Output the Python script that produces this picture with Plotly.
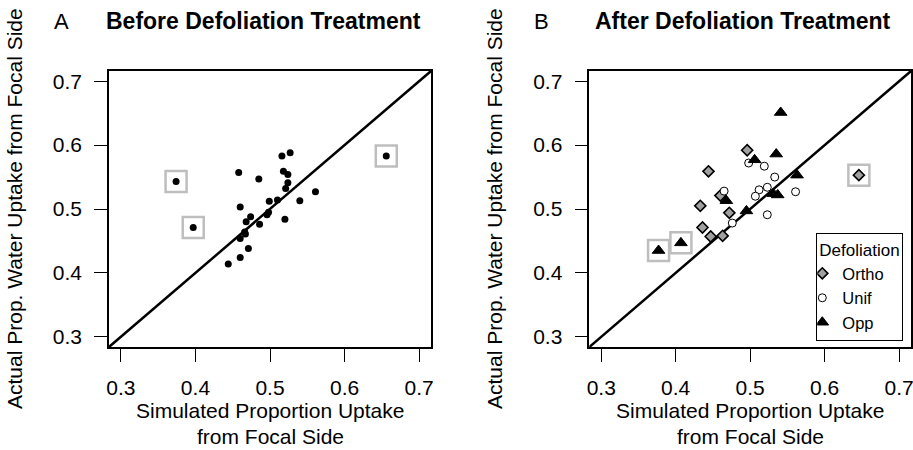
import plotly.graph_objects as go

# ---------------- data ----------------
# Panel A: before defoliation (simulated x, actual y)
before_x = [0.374, 0.397, 0.656, 0.516, 0.527, 0.458, 0.485, 0.518, 0.524, 0.524,
            0.521, 0.561, 0.540, 0.510, 0.499, 0.498, 0.496, 0.460, 0.520, 0.474,
            0.468, 0.486, 0.466, 0.467, 0.460, 0.471, 0.460, 0.444]
before_y = [0.543, 0.471, 0.583, 0.583, 0.588, 0.557, 0.547, 0.559, 0.554, 0.541,
            0.532, 0.527, 0.513, 0.514, 0.512, 0.495, 0.491, 0.503, 0.484, 0.488,
            0.480, 0.476, 0.464, 0.461, 0.454, 0.438, 0.424, 0.414]
before_out_x = [0.374, 0.397, 0.656]
before_out_y = [0.543, 0.471, 0.583]

# Panel B: after defoliation, by treatment
ortho_x = [0.496, 0.444, 0.646, 0.433, 0.460, 0.472, 0.436, 0.447, 0.463]
ortho_y = [0.592, 0.559, 0.553, 0.505, 0.521, 0.494, 0.471, 0.457, 0.458]
unif_x = [0.498, 0.519, 0.533, 0.523, 0.512, 0.507, 0.465, 0.561, 0.523, 0.476]
unif_y = [0.572, 0.567, 0.550, 0.534, 0.530, 0.520, 0.528, 0.527, 0.491, 0.478]
opp_x = [0.541, 0.535, 0.563, 0.506, 0.531, 0.537, 0.468, 0.495, 0.407, 0.377]
opp_y = [0.651, 0.586, 0.553, 0.577, 0.524, 0.522, 0.513, 0.497, 0.447, 0.435]
after_out_x = [0.646, 0.407, 0.377]
after_out_y = [0.553, 0.447, 0.435]

tick_vals = [0.3, 0.4, 0.5, 0.6, 0.7]
tick_text = ["0.3", "0.4", "0.5", "0.6", "0.7"]
axis_range = [0.284, 0.716]
one_to_one = [0.2, 0.8]

FONT = "Liberation Sans, Arial, Helvetica, sans-serif"

fig = go.Figure()

def diag(xa, ya):
    fig.add_trace(go.Scatter(x=one_to_one, y=one_to_one, mode="lines",
                             line=dict(color="black", width=2.5),
                             xaxis=xa, yaxis=ya, showlegend=False, hoverinfo="skip"))

def boxes(xs, ys, xa, ya):
    fig.add_trace(go.Scatter(x=xs, y=ys, mode="markers",
                             marker=dict(symbol="square-open", size=21,
                                         color="#BEBEBE", line=dict(width=2.5, color="#BEBEBE")),
                             xaxis=xa, yaxis=ya, showlegend=False, hoverinfo="skip"))

# Panel A
diag("x", "y")
boxes(before_out_x, before_out_y, "x", "y")
fig.add_trace(go.Scatter(x=before_x, y=before_y, mode="markers",
                         marker=dict(symbol="circle", size=7, color="black"),
                         xaxis="x", yaxis="y", showlegend=False))

# Panel B
diag("x2", "y2")
boxes(after_out_x, after_out_y, "x2", "y2")
fig.add_trace(go.Scatter(x=ortho_x, y=ortho_y, mode="markers", name="Ortho",
                         marker=dict(symbol="diamond", size=8.5, color="#A0A0A0",
                                     line=dict(color="black", width=1.6)),
                         xaxis="x2", yaxis="y2"))
fig.add_trace(go.Scatter(x=unif_x, y=unif_y, mode="markers", name="Unif",
                         marker=dict(symbol="circle", size=8, color="white",
                                     line=dict(color="black", width=1)),
                         xaxis="x2", yaxis="y2"))
fig.add_trace(go.Scatter(x=opp_x, y=opp_y, mode="markers", name="Opp",
                         marker=dict(symbol="triangle-up", size=11, color="black",
                                     line=dict(color="black", width=1)),
                         xaxis="x2", yaxis="y2"))

axis_common = dict(range=axis_range, tickvals=tick_vals, ticktext=tick_text,
                   showgrid=False, zeroline=False, showline=True, mirror=True,
                   linecolor="black", linewidth=1.5, ticks="outside", ticklen=13,
                   tickwidth=1.3, tickcolor="black", ticklabeloverflow="allow",
                   tickfont=dict(family=FONT, size=21, color="black"))

fig.update_layout(
    width=913, height=450,
    margin=dict(l=109, r=2, t=71, b=103, autoexpand=False),
    paper_bgcolor="white", plot_bgcolor="white",
    font=dict(family=FONT, color="black"),
    xaxis=dict(domain=[0, 0.4015], anchor="y", ticklabelstandoff=8, **axis_common),
    yaxis=dict(domain=[0, 1], anchor="x", ticklabelstandoff=8, **axis_common),
    xaxis2=dict(domain=[0.5989, 1.0], anchor="y2", ticklabelstandoff=8, **axis_common),
    yaxis2=dict(domain=[0, 1], anchor="x2", ticklabelstandoff=8, **axis_common),
    legend=dict(x=0.9904, y=0.413, xanchor="right", yanchor="top",
                bgcolor="white", bordercolor="black", borderwidth=1,
                font=dict(family=FONT, size=16.5, color="black"),
                title=dict(text="Defoliation", side="top",
                           font=dict(family=FONT, size=17, color="black")),
                indentation=-15, tracegroupgap=0),
    showlegend=True,
)

ann = []
# panel letters and titles
ann.append(dict(text="A", x=61.5, y=21, font=dict(size=22)))
ann.append(dict(text="<b>Before Defoliation Treatment</b>", x=263.5, y=21, font=dict(size=23)))
ann.append(dict(text="B", x=541.5, y=21, font=dict(size=22)))
ann.append(dict(text="<b>After Defoliation Treatment</b>", x=743, y=21, font=dict(size=23)))
# axis titles
for cx in (270, 750):
    ann.append(dict(text="Simulated Proportion Uptake", x=cx, y=410, font=dict(size=21)))
    ann.append(dict(text="from Focal Side", x=cx, y=436, font=dict(size=21)))
for cx in (14, 494):
    ann.append(dict(text="Actual Prop. Water Uptake from Focal Side", x=cx, y=209,
                    font=dict(size=21), textangle=-90))

for a in ann:
    fig.add_annotation(text=a["text"], xref="paper", yref="paper",
                       x=(a["x"] - 109) / 802, y=1 - (a["y"] - 71) / 276,
                       xanchor="center", yanchor="middle", showarrow=False,
                       textangle=a.get("textangle", 0),
                       font=dict(family=FONT, color="black", size=a["font"]["size"]))

fig.write_html("out.html")
